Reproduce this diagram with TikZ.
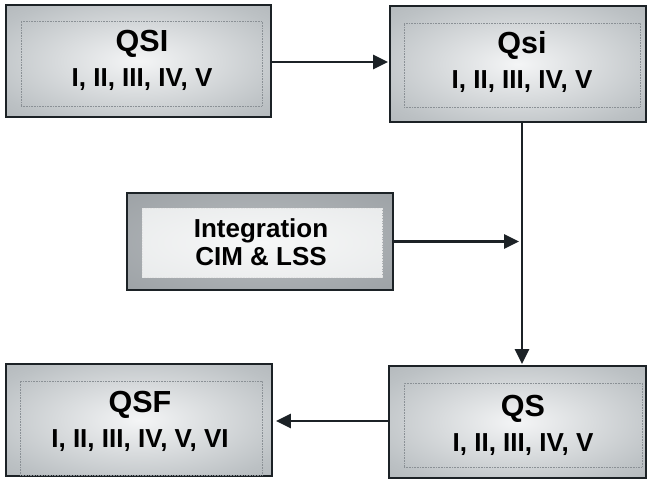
\documentclass[tikz,border=0pt]{standalone}
\usepackage{fontspec}
\setmainfont{Liberation Sans}
\usetikzlibrary{arrows.meta}
\definecolor{boxedge}{HTML}{1C2226}
\definecolor{boxhi}{HTML}{F4F5F6}
\definecolor{boxmid}{HTML}{BCC1C4}
\definecolor{boxlo}{HTML}{9CA1A5}
\definecolor{bandlo}{HTML}{9A9FA3}
\definecolor{bandhi}{HTML}{B8BCBF}
\definecolor{panelhi}{HTML}{F6F7F7}
\definecolor{panello}{HTML}{D6D9DB}
\definecolor{dotc}{HTML}{8A9095}
% soft glow: light centre fading gradually to grey at the rim
\pgfdeclareradialshading{boxglow}{\pgfpoint{0bp}{0bp}}{%
  color(0bp)=(boxhi); color(30bp)=(boxmid); color(55bp)=(boxlo); color(75bp)=(boxlo)}
\pgfdeclareradialshading{bandglow}{\pgfpoint{0bp}{0bp}}{%
  color(0bp)=(bandhi); color(40bp)=(bandlo); color(75bp)=(bandlo)}
\pgfdeclareradialshading{panelglow}{\pgfpoint{0bp}{0bp}}{%
  color(0bp)=(panelhi); color(35bp)=(panelhi!60!panello); color(60bp)=(panello); color(75bp)=(panello)}
\tikzset{
  outerbox/.style={draw=boxedge, line width=1.8pt, shading=boxglow},
  bandbox/.style={draw=boxedge, line width=1.8pt, shading=bandglow},
  innerbox/.style={draw=dotc, densely dotted, line width=0.6pt, inner sep=0pt},
  panelbox/.style={innerbox, shading=panelglow, draw=white!80!gray},
  label/.style={align=center, inner sep=0pt, font=\fontsize{26}{34}\selectfont\bfseries},
  panellabel/.style={align=center, inner sep=0pt, font=\fontsize{26}{28}\selectfont\bfseries},
  flow/.style={draw=boxedge, line width=2.8pt, -{Triangle[length=15pt,width=14pt]}},
}
\newcommand{\ttl}[1]{{\fontsize{30.5}{34}\selectfont #1}}
\begin{document}
\begin{tikzpicture}[x=1pt,y=-1pt]
\useasboundingbox (0,0) rectangle (649,480);
\fill[white] (0,0) rectangle (649,480);

% outer frames
\node[outerbox, minimum width=265pt, minimum height=112pt] (qsi) at (138.5,61) {};
\node[outerbox, minimum width=256pt, minimum height=116pt] (qsm) at (518,64) {};
\node[bandbox, minimum width=266pt, minimum height=97pt] (integ) at (260,241.5) {};
\node[outerbox, minimum width=266pt, minimum height=112pt] (qsf) at (139,420) {};
\node[outerbox, minimum width=257pt, minimum height=112pt] (qs) at (517.5,422) {};

% dotted inner panels
\node[innerbox, minimum width=241pt, minimum height=85pt] (qsiIn) at (141.5,63.5) {};
\node[innerbox, minimum width=236pt, minimum height=84pt] (qsmIn) at (522,65) {};
\node[panelbox, minimum width=240pt, minimum height=69pt] (integIn) at (262,242.5) {};
\node[innerbox, minimum width=242pt, minimum height=94pt] (qsfIn) at (141,428) {};
\node[innerbox, minimum width=238pt, minimum height=84pt] (qsIn) at (523,425) {};

% labels
\node[label] (qsiTx) at (142,60) {\ttl{QSI}\\[1pt]I, II, III, IV, V};
\node[label] (qsmTx) at (522,61.5) {\ttl{Qsi}\\[1pt]I, II, III, IV, V};
\node[panellabel] (integTx) at (261,242) {Integration\\CIM \& LSS};
\node[label] (qsfTx) at (140,421) {\ttl{QSF}\\[1pt]I, II, III, IV, V, VI};
\node[label] (qsTx) at (523,425) {\ttl{QS}\\[1pt]I, II, III, IV, V};

% connectors
\coordinate (vx) at (522,0);
\draw[flow, shorten >=1pt] (qsi.east |- 0,62) -- (qsm.west |- 0,62);
\draw[flow, shorten >=1pt] (qsm.south -| vx) -- (qs.north -| vx);
\draw[flow, shorten >=3pt] (integ.east) -- (integ.east -| vx);
\draw[flow, shorten >=3pt] (qs.west |- 0,421) -- (qsf.east |- 0,421);
\end{tikzpicture}
\end{document}
